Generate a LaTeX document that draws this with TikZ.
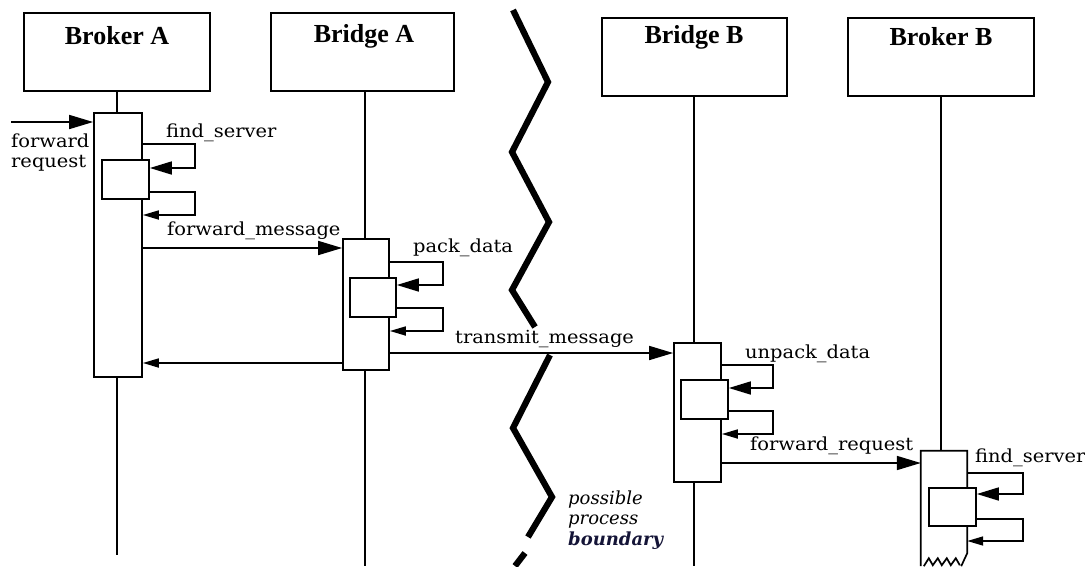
\documentclass[tikz,border=0pt]{standalone}
\usepackage{fontspec}
\setmainfont{DejaVu Serif}
\newfontfamily\hdrfont{Liberation Serif}
\newfontfamily\lblfont{DejaVu Serif}[FakeStretch=1.08]
\usetikzlibrary{arrows.meta}
\newcommand\mkloop[7]{%
  \draw[ln,-{Triangle[length=22pt,width=13pt]}] (#1.east |- 0,#3) -| (#7,#4) -- (#2.east |- 0,#4);
  \draw[ln,-{Triangle[length=16pt,width=9pt]}] (#2.east |- 0,#5) -| (#7,#6) -- (#1.east |- 0,#6);}
\begin{document}
\begin{tikzpicture}[x=1pt,y=-1pt,
  ln/.style={line width=1.7pt},
  hdr/.style={draw, line width=1.8pt, minimum width=#1, minimum height=78pt, inner sep=0pt},
  hdrtext/.style={font=\hdrfont\bfseries\fontsize{26}{28}\selectfont, inner sep=0pt},
  act/.style n args={2}{draw, line width=1.7pt, fill=white, minimum width=#1, minimum height=#2, inner sep=0pt},
  lbl/.style={font=\lblfont\fontsize{18}{21}\selectfont, inner sep=0pt, anchor=base west},
  bnd/.style={font=\itshape\fontsize{18}{21}\selectfont, inner sep=0pt, anchor=base west},
  bigtip/.style={-{Triangle[length=24pt,width=14pt]}},
  smalltip/.style={-{Triangle[length=16pt,width=9pt]}},
  wave/.style={line width=6.2pt}
]
\useasboundingbox[fill=white] (0,0) rectangle (1085,566);

% headers
\node[hdr=186pt] (brA) at (117,52) {};
\node[hdr=183pt] (brgA) at (362.5,52) {};
\node[hdr=185pt] (brgB) at (694.5,57) {};
\node[hdr=186pt] (brB) at (941,57) {};
\node[hdrtext] (tA) at (117,36) {Broker A};
\node[hdrtext] (tBA) at (364,36) {Bridge A};
\node[hdrtext] (tBB) at (694,37) {Bridge B};
\node[hdrtext] (tB) at (941,37) {Broker B};

% activations
\node[act={48pt}{264pt}] (actA) at (118,245) {};
\node[act={46pt}{131pt}] (actB) at (366,304.5) {};
\node[act={47pt}{139pt}] (actC) at (697.5,412.5) {};
\node[minimum width=46pt, minimum height=115pt, inner sep=0pt] (actD) at (944,508.5) {};

% lifelines
\coordinate (endA) at (117,555);
\coordinate (endB) at (365,566);
\coordinate (endC) at (694,566);
\draw[ln] (brA.south -| 117,0) -- (actA.north -| 117,0);
\draw[ln] (actA.south -| 117,0) -- (endA);
\draw[ln] (brgA.south -| 365,0) -- (actB.north -| 365,0);
\draw[ln] (actB.south -| 365,0) -- (endB);
\draw[ln] (brgB.south -| 694,0) -- (actC.north -| 694,0);
\draw[ln] (actC.south -| 694,0) -- (endC);
\draw[ln] (brB.south) -- (brB.south |- actD.north);

% Broker B activation with torn bottom
\draw[ln, fill=white] (actD.south west) -- (actD.north west) -- (actD.north east)
   -- ([yshift=13pt]actD.south east) -- ([xshift=-6pt]actD.south east);
\draw[ln] ([xshift=3pt]actD.south west) -- ++(5,-8) -- ++(4,7) -- ++(5,-7) -- ++(4,7)
   -- ++(5,-7) -- ++(4,7) -- ++(5,-7) -- ++(4,7);

% inner boxes
\node[act={47pt}{39pt}] (inA) at (125.5,179.5) {};
\node[act={46pt}{39pt}] (inB) at (373,297.5) {};
\node[act={47pt}{39pt}] (inC) at (704.5,399.5) {};
\node[act={47pt}{38pt}] (inD) at (952.5,507) {};

% self loops
\mkloop{actA}{inA}{144}{168}{192}{215}{195}
\mkloop{actB}{inB}{262}{285}{308}{331}{443}
\mkloop{actC}{inC}{365}{388}{411}{434}{773}
\mkloop{actD}{inD}{473}{494}{519}{541}{1023}

% messages
\coordinate (src) at (11,122);
\draw[ln,bigtip] (src) -- (actA.west |- src);
\draw[ln,bigtip] (actA.east |- 0,248) -- (actB.west |- 0,248);
\draw[ln,smalltip] (actB.west |- 0,363) -- (actA.east |- 0,363);
\draw[ln,bigtip] (actB.east |- 0,353) -- (actC.west |- 0,353);
\draw[ln,bigtip] (actC.east |- 0,463) -- (actD.west |- 0,463);

% labels
\node[lbl] (l1) at (166,137) {find\_server};
\node[lbl] (l2a) at (11,147) {forward};
\node[lbl] (l2b) at (11,167) {request};
\node[lbl] (l3) at (167,235) {forward\_message};
\node[lbl] (l4) at (413,252) {pack\_data};
\node[lbl] (l5) at (455,343) {transmit\_message};
\node[lbl] (l6) at (745,358) {unpack\_data};
\node[lbl] (l7) at (750,450) {forward\_request};
\node[lbl] (l8) at (975,462) {find\_server};

% process boundary
\draw[wave] (513,10) -- (548,82) -- (512,152) -- (549,222) -- (512,290) -- (535,327);
\draw[wave] (550,355) -- (513,428) -- (552,497) -- (528,537);
\draw[wave] (525,553) -- (515,566);
\node[bnd] (p1) at (568,504) {possible};
\node[bnd] (p2) at (568,524) {process};
\node[bnd, font=\bfseries\itshape\fontsize{18}{21}\selectfont, text={rgb,255:red,20;green,20;blue,55}] (p3) at (568,545) {boundary};
\end{tikzpicture}
\end{document}
